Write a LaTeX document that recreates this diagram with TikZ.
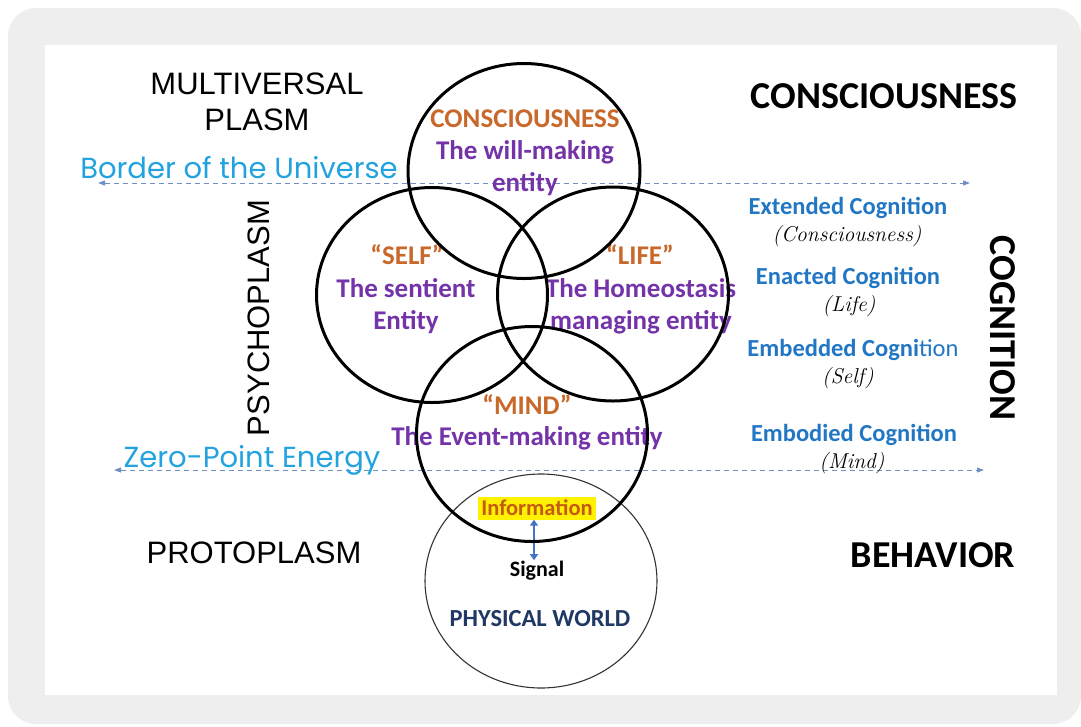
\documentclass[tikz,border=0pt]{standalone}
\usepackage{fontspec}
\newfontfamily\arialf{Liberation Sans}
\newfontfamily\calf{Carlito}
\newfontfamily\handf{Poppins}
\usetikzlibrary{shapes.geometric,arrows.meta}
\definecolor{bggray}{HTML}{EEEEEE}
\definecolor{orng}{HTML}{C8692B}
\definecolor{purp}{HTML}{7433A8}
\definecolor{cogblue}{HTML}{2277C4}
\definecolor{hand}{HTML}{22A3E0}
\definecolor{dashc}{HTML}{7090C4}
\definecolor{navy}{HTML}{203864}
\definecolor{infoor}{HTML}{C55A11}
\definecolor{arrb}{HTML}{4472C4}
\tikzset{
  bigc/.style={draw=black, line width=3pt, ellipse, inner sep=0pt},
  thinc/.style={draw=black!80, line width=1.1pt, ellipse, inner sep=0pt},
  arial/.style={font=\arialf\fontsize{31}{36}\selectfont, text=black, align=center, inner sep=0pt},
  bigbold/.style={font=\calf\bfseries\fontsize{38}{40}\selectfont, text=black, inner sep=0pt},
  ctitle/.style={font=\calf\bfseries\fontsize{27}{30}\selectfont, text=orng, inner sep=0pt},
  cbody/.style={font=\calf\bfseries\fontsize{27}{32}\selectfont, text=purp, align=center, inner sep=0pt},
  cogn/.style={font=\calf\bfseries\fontsize{24.5}{26}\selectfont, text=cogblue, inner sep=0pt},
  cogi/.style={font=\itshape\fontsize{21.5}{24}\selectfont, text=black, inner sep=0pt},
  handt/.style={font=\handf\fontsize{29}{32}\selectfont, text=hand, inner sep=0pt},
  dline/.style={draw=dashc, line width=1pt, dash pattern=on 5pt off 4pt, {Triangle[length=7pt,width=5pt]}-{Triangle[length=7pt,width=5pt]}}
}
\begin{document}
\begin{tikzpicture}[x=1pt,y=-1pt]
\useasboundingbox (0,0) rectangle (1081,726);
\fill[white] (0,0) rectangle (1081,726);
\fill[bggray, rounded corners=28pt] (8,8) rectangle (1081,724);
\fill[white] (45,45) rectangle (1057,695);

% dashed border lines
\coordinate (bL) at (98,183);
\coordinate (bR) at (970,183);
\coordinate (zL) at (114,470);
\coordinate (zR) at (984,470);
\draw[dline] (bL) -- (bR);
\draw[dline] (zL) -- (zR);

% outer labels
\node[arial] (multi) at (257,102) {MULTIVERSAL\\PLASM};
\node[arial, rotate=90] (psycho) at (259,318) {PSYCHOPLASM};
\node[arial] (proto) at (254,553) {PROTOPLASM};
\node[bigbold] (consc) at (884,96) {CONSCIOUSNESS};
\node[bigbold, rotate=-90] (cogni) at (1003,328) {COGNITION};
\node[bigbold] (behav) at (933,555) {BEHAVIOR};

\node[handt] (border) at (239,168) {Border of the Universe};
\node[handt] (zero) at (252,460) {Zero-Point Energy};

% circle texts
\node[ctitle] (t1) at (525,119) {CONSCIOUSNESS};
\node[cbody] (b1) at (525,168) {The will-making\\entity};
\node[ctitle] (t2) at (407,255) {“SELF”};
\node[cbody] (b2) at (406,306) {The sentient\\Entity};
\node[ctitle] (t3) at (640,255) {“LIFE”};
\node[cbody] (b3) at (641,306) {The Homeostasis\\managing entity};
\node[ctitle] (t4) at (527,405) {“MIND”};
\node[cbody] (b4) at (527,438) {The Event-making entity};

% information / signal
\node[fill=yellow, text=infoor, font=\calf\bfseries\fontsize{22.5}{24}\selectfont, inner xsep=3pt, inner ysep=3.5pt] (info) at (537,508) {Information};
\node[font=\calf\bfseries\fontsize{22}{24}\selectfont, text=black, inner sep=1pt] (signal) at (537,571) {Signal};
\node[font=\calf\bfseries\fontsize{24.5}{26}\selectfont, text=navy, inner sep=0pt] (phys) at (540,619) {PHYSICAL WORLD};
\draw[arrb, line width=2.6pt, {Triangle[length=6pt,width=8pt]}-{Triangle[length=6pt,width=8pt]}] (info.south -| 534,0) -- (signal.north -| 534,0);

% right cognition list
\node[cogn] (c1) at (848,208) {Extended Cognition};
\node[cogi] (c1i) at (847,236) {(Consciousness)};
\node[cogn] (c2) at (848,278) {Enacted Cognition};
\node[cogi] (c2i) at (849,306) {(Life)};
\node[cogn] (c3) at (853,350) {Embedded Cogni\mdseries tion};
\node[cogi] (c3i) at (848,378) {(Self)};
\node[cogn] (c4) at (854,435) {Embodied Cognition};
\node[cogi] (c4i) at (852,463) {(Mind)};

% circles
\node[thinc, minimum width=232pt, minimum height=214pt] (physc) at (541,581) {};
\node[bigc, minimum width=232pt, minimum height=215pt] (consc c) at (524,171) {};
\node[bigc, minimum width=231pt, minimum height=215pt] (self c) at (432,295) {};
\node[bigc, minimum width=231pt, minimum height=214pt] (life c) at (613,294) {};
\node[bigc, minimum width=231pt, minimum height=215pt] (mind c) at (532,434) {};
\end{tikzpicture}
\end{document}
